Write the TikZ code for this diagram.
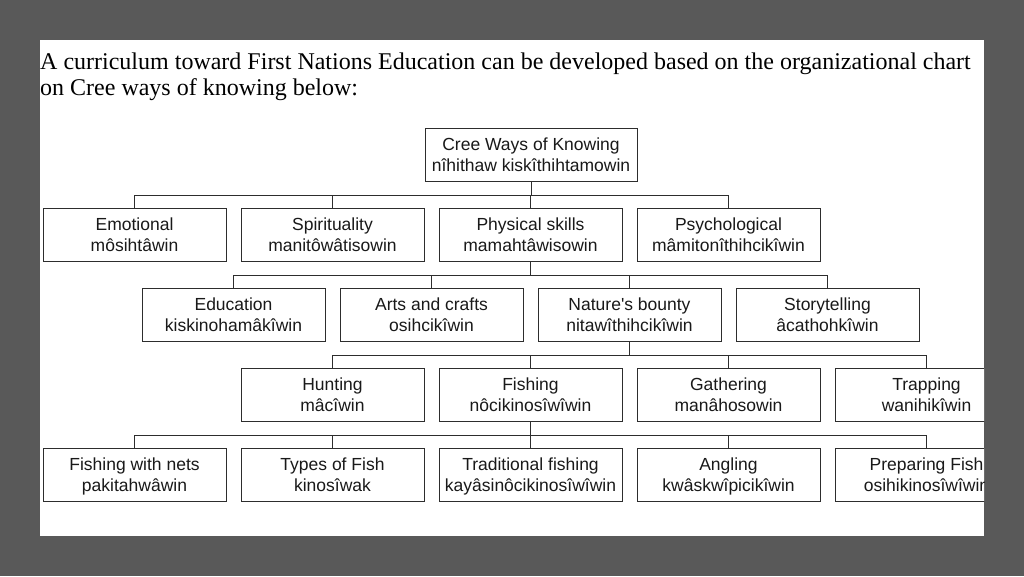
\documentclass[tikz,border=0pt]{standalone}
\usepackage{fontspec}
\setmainfont{Liberation Serif}
\setsansfont{Liberation Sans}

\definecolor{slidegray}{RGB}{89,89,89}
\definecolor{linegray}{RGB}{45,45,45}

\tikzset{
  kbox/.style={draw=linegray, line width=1pt, fill=white, minimum width=183pt, minimum height=53pt,
    inner sep=0pt, align=center, font=\sffamily\fontsize{17.5}{21}\selectfont, text=black!90,
    text height=38pt, text depth=5pt},
  link/.style={draw=linegray, line width=1pt},
  titletext/.style={anchor=base west, inner sep=0pt, font=\fontsize{24}{26}\selectfont}
}

\begin{document}
\begin{tikzpicture}[x=1pt,y=-1pt]
\fill[slidegray] (0,0) rectangle (1024,576);
\fill[white] (40,40) rectangle (984,536);

\node[titletext] (title1) at (40,69)
  {A curriculum toward First Nations Education can be developed based on the organizational chart};
\node[titletext] (title2) at (40,95) {on Cree ways of knowing below:};

\begin{scope}
\clip (40,40) rectangle (984,536);

\node[kbox, minimum width=212pt] (root) at (531,154.5) {Cree Ways of Knowing\\nîhithaw kiskîthihtamowin};

\foreach \x/\n/\t in {134.5/emo/{Emotional\\môsihtâwin},
                      332.5/spi/{Spirituality\\manitôwâtisowin},
                      530.5/phy/{Physical skills\\mamahtâwisowin},
                      728.5/psy/{Psychological\\mâmitonîthihcikîwin}} {
  \node[kbox] (\n) at (\x,234.5) {\t};
  \draw[link] (root.south) -- ++(0,14) -| (\n.north);}

\foreach \x/\n/\t in {233.5/edu/{Education\\kiskinohamâkîwin},
                      431.5/art/{Arts and crafts\\osihcikîwin},
                      629.5/nat/{Nature\textquotesingle s bounty\\nitawîthihcikîwin},
                      827.5/sto/{Storytelling\\âcathohkîwin}} {
  \node[kbox] (\n) at (\x,314.5) {\t};
  \draw[link] (phy.south) -- ++(0,14) -| (\n.north);}

\foreach \x/\n/\t in {332.5/hun/{Hunting\\mâcîwin},
                      530.5/fis/{Fishing\\nôcikinosîwîwin},
                      728.5/gat/{Gathering\\manâhosowin},
                      926.5/tra/{Trapping\\wanihikîwin}} {
  \node[kbox] (\n) at (\x,394.5) {\t};
  \draw[link] (nat.south) -- ++(0,14) -| (\n.north);}

\foreach \x/\n/\t in {134.5/net/{Fishing with nets\\pakitahwâwin},
                      332.5/typ/{Types of Fish\\kinosîwak},
                      530.5/tdf/{Traditional fishing\\kayâsinôcikinosîwîwin},
                      728.5/ang/{Angling\\kwâskwîpicikîwin},
                      926.5/pre/{Preparing Fish\\osihikinosîwîwin}} {
  \node[kbox] (\n) at (\x,474.5) {\t};
  \draw[link] (fis.south) -- ++(0,14) -| (\n.north);}
\end{scope}
\end{tikzpicture}
\end{document}
